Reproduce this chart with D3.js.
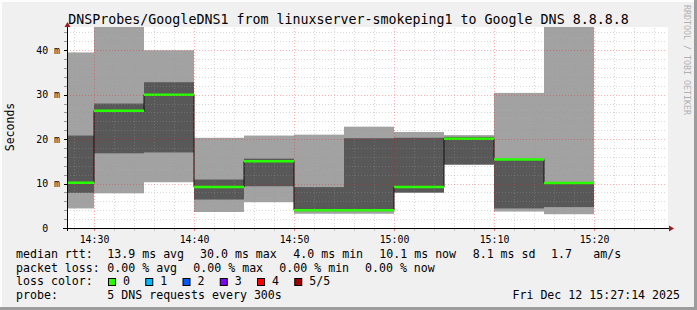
<!DOCTYPE html>
<html>
<head>
<meta charset="utf-8">
<script src="https://cdn.jsdelivr.net/npm/d3@7"></script>
<style>
  body { margin: 0; background: #fff; }
  svg text { font-family: "DejaVu Sans Mono", monospace; white-space: pre; }
</style>
</head>
<body>
<svg class="chart"></svg>
<script>
// data, one entry per 5 minute step (start time, UTC)
const stepStarts = ["14:25", "14:30", "14:35", "14:40", "14:45", "14:50",
                    "14:55", "15:00", "15:05", "15:10", "15:15"];
// smoke bands in ms
const outerHi = [39.5, 47.0, 40.0, 20.3, 20.8, 21.0, 22.8, 21.6, 20.9, 30.4, 47.0];
const innerHi = [20.8, 28.0, 32.8, 10.9, 15.6,  9.2, 20.2, 20.3, 20.5, 15.5, 10.2];
const median  = [10.2, 26.4, 30.0,  9.2, 15.0,  4.0,  4.0,  9.2, 20.1, 15.4, 10.1];
const innerLo = [ 7.9, 16.8, 17.0,  6.4,  9.4,  3.8,  3.8,  8.0, 14.3,  4.4,  4.7];
const outerLo = [ 4.4,  7.8, 10.3,  3.6,  5.8,  3.2,  3.2,  7.9, 14.2,  3.7,  3.1];

const yTicks = [0, 10, 20, 30, 40];
const title = "DNSProbes/GoogleDNS1 from linuxserver-smokeping1 to Google DNS 8.8.8.8";

// legend texts
const rttLegend  = ["median rtt:", "13.9 ms avg", "30.0 ms max", "4.0 ms min", "10.1 ms now", "8.1 ms sd", "1.7", "am/s"];
const lossLegend = ["packet loss:", "0.00 % avg", "0.00 % max", "0.00 % min", "0.00 % now"];
const lossNames  = ["0", "1", "2", "3", "4", "5/5"];
const lossColors = ["#26ff00", "#00b8ff", "#0059ff", "#7e00ff", "#ff0000", "#a10000"];
const probeText  = "5 DNS requests every 300s";
const stamp      = "Fri Dec 12 15:27:14 2025";

// size of the image
const width = 697, height = 310;
const pLeft = 67, pRight = 667, pTop = 28, pBottom = 228;

const day = (hm, s = 0) => {
  const [h, m] = hm.split(":").map(Number);
  return new Date(Date.UTC(2025, 11, 12, h, m, s));
};

const x = d3.scaleUtc()
  .domain([day("14:27", 18), day("15:27", 18)])
  .range([pLeft, pRight]);

const y = d3.scaleLinear()
  .domain([0, 45])
  .range([pBottom, pTop]);

const chart = d3.select(".chart")
  .attr("width", width)
  .attr("height", height);

// background with a 3d border
chart.append("rect").attr("width", width).attr("height", height).attr("fill", "#f0f0f0");
chart.append("path").attr("d", `M1,${height} V1 H${width}`)
  .attr("stroke", "#fdfdfd").attr("stroke-width", 2).attr("fill", "none");
chart.append("path").attr("d", `M0,${height - 1.5} H${width - 1.5} V0`)
  .attr("stroke", "#9c9c9c").attr("stroke-width", 3).attr("fill", "none");

// canvas
chart.append("rect")
  .attr("x", pLeft).attr("y", pTop - 1)
  .attr("width", pRight - pLeft + 1).attr("height", pBottom - pTop + 1)
  .attr("fill", "#fff");

const steps = stepStarts.map((s, i) => ({
  t0: day(s), t1: new Date(day(s).getTime() + 300000),
  oh: outerHi[i], ih: innerHi[i], md: median[i], il: innerLo[i], ol: outerLo[i]
}));

const plot = chart.append("g");
plot.append("clipPath").attr("id", "clip")
  .append("rect").attr("x", pLeft).attr("y", pTop - 1)
  .attr("width", pRight - pLeft + 1).attr("height", pBottom - pTop + 1);
const g = plot.append("g").attr("clip-path", "url(#clip)");

// light smoke
g.selectAll(".outer").data(steps).enter().append("rect")
  .attr("x", d => x(d.t0)).attr("width", d => x(d.t1) - x(d.t0))
  .attr("y", d => y(d.oh)).attr("height", d => y(d.ol) - y(d.oh))
  .attr("fill", "#a2a2a2");

// dark smoke
g.selectAll(".inner").data(steps).enter().append("rect")
  .attr("x", d => x(d.t0)).attr("width", d => x(d.t1) - x(d.t0))
  .attr("y", d => y(d.ih)).attr("height", d => y(d.il) - y(d.ih))
  .attr("fill", "#585858");

// stepped median connector
const stepLine = d3.line()
  .x(d => x(d.t)).y(d => y(d.v))
  .curve(d3.curveStepAfter);
const pts = steps.map(d => ({ t: d.t0, v: d.md }));
pts.push({ t: steps[steps.length - 1].t1, v: steps[steps.length - 1].md });
g.append("path").attr("d", stepLine(pts))
  .attr("fill", "none").attr("stroke", "#111").attr("stroke-width", 1);

// green median per step
g.selectAll(".med").data(steps).enter().append("line")
  .attr("x1", d => x(d.t0)).attr("x2", d => x(d.t1))
  .attr("y1", d => y(d.md)).attr("y2", d => y(d.md))
  .attr("stroke", lossColors[0]).attr("stroke-width", 2.5);

// grid on top
const minorT = x.ticks(d3.utcMinute.every(2));
const majorT = x.ticks(d3.utcMinute.every(10));
const minorV = d3.range(2, 46, 2).filter(v => v % 10 !== 0);
const grid = chart.append("g").attr("stroke-dasharray", "1,2").attr("shape-rendering", "crispEdges");
grid.selectAll(".vmin").data(minorT.filter(t => t.getUTCMinutes() % 10 !== 0)).enter().append("line")
  .attr("x1", d => Math.round(x(d)) + 0.5).attr("x2", d => Math.round(x(d)) + 0.5)
  .attr("y1", pTop).attr("y2", pBottom)
  .attr("stroke", "rgba(150,150,150,0.38)");
grid.selectAll(".hmin").data(minorV).enter().append("line")
  .attr("x1", pLeft).attr("x2", pRight)
  .attr("y1", d => Math.round(y(d)) + 0.5).attr("y2", d => Math.round(y(d)) + 0.5)
  .attr("stroke", "rgba(150,150,150,0.38)");
grid.selectAll(".vmaj").data(majorT).enter().append("line")
  .attr("x1", d => Math.round(x(d)) + 0.5).attr("x2", d => Math.round(x(d)) + 0.5)
  .attr("y1", pTop).attr("y2", pBottom)
  .attr("stroke", "rgba(255,0,0,0.3)");
grid.selectAll(".hmaj").data(yTicks.slice(1)).enter().append("line")
  .attr("x1", pLeft).attr("x2", pRight)
  .attr("y1", d => Math.round(y(d)) + 0.5).attr("y2", d => Math.round(y(d)) + 0.5)
  .attr("stroke", "rgba(255,0,0,0.3)");

// axes
const xAxis = chart.append("g")
  .attr("transform", `translate(0,${pBottom})`)
  .call(d3.axisBottom(x).tickValues(majorT).tickFormat(d3.utcFormat("%H:%M")).tickSize(0).tickPadding(8));
xAxis.select(".domain").remove();
xAxis.selectAll("text").attr("font-size", "9.9px").attr("fill", "#000")
  .style("font-family", "'DejaVu Sans Mono', monospace");

chart.append("g").attr("transform", `translate(0,${pBottom + 0.5})`)
  .selectAll("line").data(minorT).enter().append("line")
  .attr("x1", d => Math.round(x(d)) + 0.5).attr("x2", d => Math.round(x(d)) + 0.5)
  .attr("y1", 0).attr("y2", 2.5)
  .attr("stroke", d => d.getUTCMinutes() % 10 === 0 ? "#e08080" : "#c8c8c8");

const yAxis = chart.append("g")
  .attr("transform", `translate(${pLeft - 7},0)`)
  .call(d3.axisLeft(y).tickValues(yTicks).tickFormat(d => d === 0 ? "0  " : `${d} m`).tickSize(0).tickPadding(0));
yAxis.select(".domain").remove();
yAxis.selectAll("text").attr("font-size", "9.9px").attr("fill", "#000")
  .style("font-family", "'DejaVu Sans Mono', monospace");

chart.append("g").selectAll("line").data(d3.range(0, 46, 2)).enter().append("line")
  .attr("x1", pLeft - 3).attr("x2", pLeft)
  .attr("y1", d => Math.round(y(d)) + 0.5).attr("y2", d => Math.round(y(d)) + 0.5)
  .attr("stroke", d => d % 10 === 0 ? "#000" : "#999");

chart.append("line").attr("x1", pLeft - 4).attr("x2", pRight + 3)
  .attr("y1", pBottom + 0.5).attr("y2", pBottom + 0.5).attr("stroke", "#000");
chart.append("line").attr("x1", pLeft + 0.5).attr("x2", pLeft + 0.5)
  .attr("y1", pBottom + 3).attr("y2", pTop - 3).attr("stroke", "#000");
chart.append("path").attr("d", `M${pLeft - 2.5},${pTop - 1} L${pLeft + 0.5},${pTop - 6} L${pLeft + 3.5},${pTop - 1} Z`)
  .attr("fill", "#a01818");
chart.append("path").attr("d", `M${pRight + 2},${pBottom - 2.5} L${pRight + 7},${pBottom + 0.5} L${pRight + 2},${pBottom + 3.5} Z`)
  .attr("fill", "#a01818");

// title and labels
chart.append("text").attr("x", width / 2).attr("y", 24)
  .attr("text-anchor", "middle").attr("font-size", "13.3px").text(title);

chart.append("text").attr("transform", "translate(14,127) rotate(-90)")
  .attr("text-anchor", "middle").attr("font-size", "11.5px").text("Seconds");

chart.append("text").attr("transform", "translate(684,5) rotate(90)")
  .attr("font-size", "8.3px").attr("fill", "#b0b0b0").text("RRDTOOL / TOBI OETIKER");

// legend
const legendFont = "11.6px";
const rowY = [258, 271.7, 285.4, 299];
const rttX = [16, 107.3, 200, 293.3, 379.3, 472.7, 551, 593.3];
const lossX = [16, 107.3, 193.3, 279.3, 365];

chart.append("g").selectAll("text").data(rttLegend).enter().append("text")
  .attr("x", (d, i) => rttX[i]).attr("y", rowY[0]).attr("font-size", legendFont).text(d => d);
chart.append("g").selectAll("text").data(lossLegend).enter().append("text")
  .attr("x", (d, i) => lossX[i]).attr("y", rowY[1]).attr("font-size", legendFont).text(d => d);

chart.append("text").attr("x", 16).attr("y", rowY[2]).attr("font-size", legendFont).text("loss color:");
const key = chart.append("g").selectAll("g").data(lossNames).enter().append("g")
  .attr("transform", (d, i) => `translate(${108 + i * 37.25},0)`);
key.append("rect").attr("x", 0.5).attr("y", 278.5).attr("width", 7).attr("height", 7)
  .attr("fill", (d, i) => lossColors[i]).attr("stroke", "#000");
key.append("text").attr("x", 15).attr("y", rowY[2]).attr("font-size", legendFont).text(d => d);

chart.append("text").attr("x", 16).attr("y", rowY[3]).attr("font-size", legendFont).text("probe:");
chart.append("text").attr("x", 107.3).attr("y", rowY[3]).attr("font-size", legendFont).text(probeText);
chart.append("text").attr("x", 680).attr("y", rowY[3]).attr("text-anchor", "end")
  .attr("font-size", legendFont).text(stamp);
</script>
</body>
</html>
